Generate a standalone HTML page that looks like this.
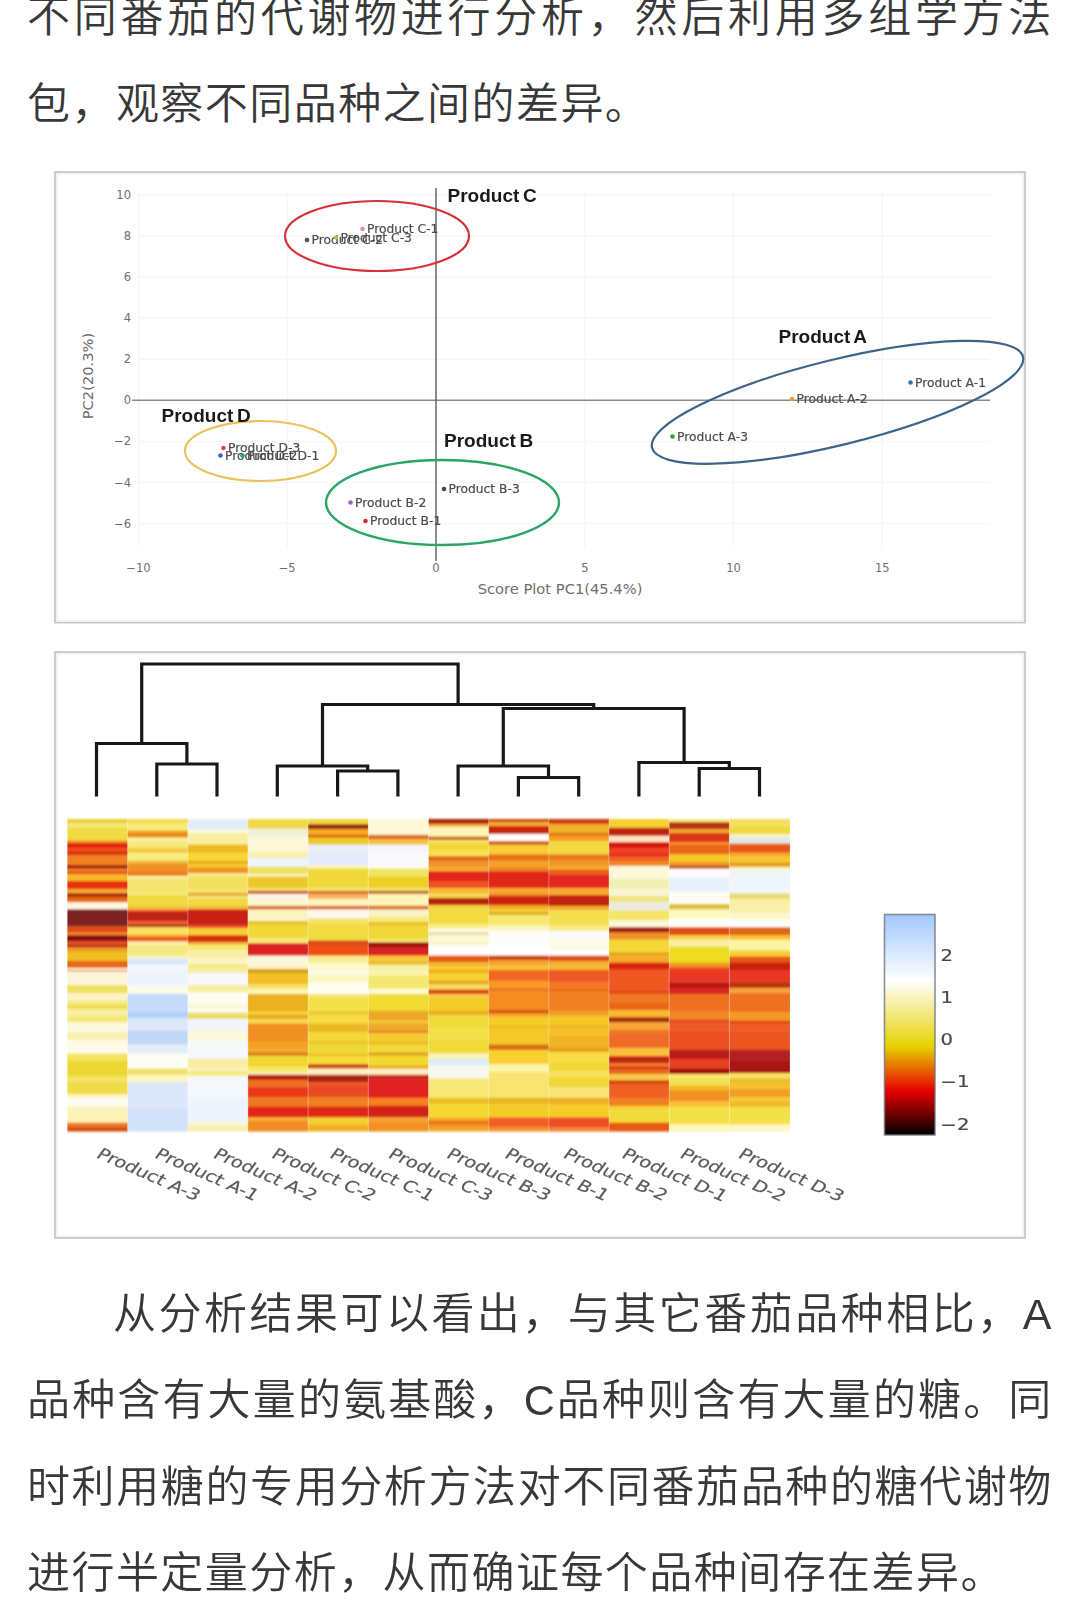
<!DOCTYPE html>
<html lang="zh-CN"><head><meta charset="utf-8"><title>page</title>
<style>
html,body{margin:0;padding:0;background:#fff;}
body{width:1070px;height:1618px;position:relative;overflow:hidden;font-family:"Liberation Sans","Noto Sans CJK SC",sans-serif;}
.t{position:absolute;left:27px;width:1025.8px;color:#383838;font-size:43px;font-weight:350;line-height:60px;height:60px;white-space:nowrap;letter-spacing:1.45px;}
.j{text-align:justify;text-align-last:justify;}
svg{position:absolute;left:0;top:0;}
.s{font-family:"DejaVu Sans","Liberation Sans",sans-serif;font-size:12.3px;fill:#4c4c4c;stroke:#4c4c4c;stroke-width:0.2px;}
.b{font-family:"Liberation Sans",sans-serif;font-weight:bold;font-size:19px;fill:#1a1a1a;letter-spacing:0px;word-spacing:-1.6px;}
.cbt{font-family:"DejaVu Sans","Liberation Sans",sans-serif;font-size:15.5px;fill:#4a4a4a;stroke:#4a4a4a;stroke-width:0.2px;}
.cl{font-family:"DejaVu Sans","Liberation Sans",sans-serif;font-size:15.5px;fill:#5a5a5a;stroke:#5a5a5a;stroke-width:0.2px;}
.ax{font-family:"DejaVu Sans","Liberation Sans",sans-serif;font-size:11.5px;fill:#6e6e6e;}
</style></head><body>
<div class="t j" style="top:-13px">不同番茄的代谢物进行分析，然后利用多组学方法</div>
<div class="t" style="top:74px">包，观察不同品种之间的差异。</div>
<svg width="1070" height="1618" viewBox="0 0 1070 1618" style="filter:blur(0.5px)">
<rect x="55" y="172" width="970" height="450.6" fill="#fff" stroke="#c8c8c8" stroke-width="1.8"/><rect x="56.8" y="173.8" width="966.4" height="447" fill="none" stroke="#f1f1f1" stroke-width="1.6"/>
<line x1="138" x2="990" y1="523.6" y2="523.6" stroke="#f6f6f6" stroke-width="1.5"/>
<line x1="138" x2="990" y1="482.5" y2="482.5" stroke="#f6f6f6" stroke-width="1.5"/>
<line x1="138" x2="990" y1="441.4" y2="441.4" stroke="#f6f6f6" stroke-width="1.5"/>
<line x1="138" x2="990" y1="359.2" y2="359.2" stroke="#f6f6f6" stroke-width="1.5"/>
<line x1="138" x2="990" y1="318.1" y2="318.1" stroke="#f6f6f6" stroke-width="1.5"/>
<line x1="138" x2="990" y1="277.0" y2="277.0" stroke="#f6f6f6" stroke-width="1.5"/>
<line x1="138" x2="990" y1="235.9" y2="235.9" stroke="#f6f6f6" stroke-width="1.5"/>
<line x1="138" x2="990" y1="194.8" y2="194.8" stroke="#f6f6f6" stroke-width="1.5"/>
<line y1="190" y2="548" x1="138.5" x2="138.5" stroke="#f7f7f7" stroke-width="1.5"/>
<line y1="190" y2="548" x1="287.2" x2="287.2" stroke="#f7f7f7" stroke-width="1.5"/>
<line y1="190" y2="548" x1="584.8" x2="584.8" stroke="#f7f7f7" stroke-width="1.5"/>
<line y1="190" y2="548" x1="733.5" x2="733.5" stroke="#f7f7f7" stroke-width="1.5"/>
<line y1="190" y2="548" x1="882.2" x2="882.2" stroke="#f7f7f7" stroke-width="1.5"/>
<line x1="132" x2="990" y1="400.3" y2="400.3" stroke="#8a8a8a" stroke-width="1.6"/>
<line y1="188" y2="561" x1="436" x2="436" stroke="#5c5c5c" stroke-width="1.4"/>
<text class="ax" x="131" y="527.6" text-anchor="end">−6</text>
<text class="ax" x="131" y="486.5" text-anchor="end">−4</text>
<text class="ax" x="131" y="445.4" text-anchor="end">−2</text>
<text class="ax" x="131" y="404.3" text-anchor="end">0</text>
<text class="ax" x="131" y="363.2" text-anchor="end">2</text>
<text class="ax" x="131" y="322.1" text-anchor="end">4</text>
<text class="ax" x="131" y="281.0" text-anchor="end">6</text>
<text class="ax" x="131" y="239.9" text-anchor="end">8</text>
<text class="ax" x="131" y="198.8" text-anchor="end">10</text>
<text class="ax" x="138.5" y="572" text-anchor="middle">−10</text>
<text class="ax" x="287.2" y="572" text-anchor="middle">−5</text>
<text class="ax" x="436.0" y="572" text-anchor="middle">0</text>
<text class="ax" x="584.8" y="572" text-anchor="middle">5</text>
<text class="ax" x="733.5" y="572" text-anchor="middle">10</text>
<text class="ax" x="882.2" y="572" text-anchor="middle">15</text>
<text class="ax" x="560" y="594" text-anchor="middle" style="font-size:14.7px">Score Plot PC1(45.4%)</text>
<text class="ax" transform="translate(93,376) rotate(-90)" text-anchor="middle" style="font-size:14.7px">PC2(20.3%)</text>
<ellipse cx="377" cy="236" rx="92" ry="35" fill="none" stroke="#d63038" stroke-width="2.2"/>
<ellipse cx="260.5" cy="451" rx="75.5" ry="30" fill="none" stroke="#e9c25a" stroke-width="2.2"/>
<ellipse cx="442.5" cy="502.5" rx="116.5" ry="42.5" fill="none" stroke="#2aa566" stroke-width="2.4"/>
<ellipse cx="837.5" cy="402.3" rx="191" ry="42.5" transform="rotate(-13.8 837.5 402.3)" fill="none" stroke="#3f6488" stroke-width="2.2"/>
<circle cx="307" cy="240" r="2.3" fill="#4a5560"/>
<text class="s" x="311.5" y="244">Product C-2</text>
<circle cx="336" cy="237.5" r="2.3" fill="#a8c838"/>
<text class="s" x="340.5" y="241.5">Product C-3</text>
<circle cx="362.5" cy="229" r="2.3" fill="#e888c0"/>
<text class="s" x="367.0" y="233">Product C-1</text>
<circle cx="220.5" cy="455.5" r="2.3" fill="#3a60c8"/>
<text class="s" x="225.0" y="459.5">Product D-2</text>
<circle cx="242.5" cy="455.5" r="2.3" fill="#2a9a8a"/>
<text class="s" x="247.0" y="459.5">Product D-1</text>
<circle cx="223.5" cy="448" r="2.3" fill="#e0483a"/>
<text class="s" x="228.0" y="452">Product D-3</text>
<circle cx="444" cy="489" r="2.3" fill="#444"/>
<text class="s" x="448.5" y="493">Product B-3</text>
<circle cx="350.5" cy="502.5" r="2.3" fill="#9a60c8"/>
<text class="s" x="355.0" y="506.5">Product B-2</text>
<circle cx="365.5" cy="521" r="2.3" fill="#d82840"/>
<text class="s" x="370.0" y="525">Product B-1</text>
<circle cx="910.5" cy="382.5" r="2.3" fill="#2878b8"/>
<text class="s" x="915.0" y="386.5">Product A-1</text>
<circle cx="792" cy="399" r="2.3" fill="#f0a030"/>
<text class="s" x="796.5" y="403">Product A-2</text>
<circle cx="672.5" cy="436.5" r="2.3" fill="#3a9a3a"/>
<text class="s" x="677.0" y="440.5">Product A-3</text>
<text class="b" x="447.5" y="202">Product C</text>
<text class="b" x="161.5" y="422">Product D</text>
<text class="b" x="444" y="447">Product B</text>
<text class="b" x="778.5" y="343">Product A</text>
<rect x="55" y="652" width="970" height="586" fill="#fff" stroke="#c8c8c8" stroke-width="1.8"/><rect x="56.8" y="653.8" width="966.4" height="582.4" fill="none" stroke="#f1f1f1" stroke-width="1.6"/>
<path d="M156.8,796.5V764.0H217.0V796.5M96.5,796.5V743.5H186.9V764.0M337.6,796.5V771.0H397.9V796.5M277.3,796.5V766.0H367.7V771.0M518.4,796.5V777.5H578.7V796.5M458.1,796.5V766.0H548.5V777.5M699.2,796.5V768.5H759.5V796.5M638.9,796.5V762.5H729.3V768.5M503.3,766.0V708.5H684.1V762.5M322.5,766.0V704.5H593.7V708.5M141.7,743.5V664.0H458.1V704.5" fill="none" stroke="#181818" stroke-width="3.2" stroke-linejoin="miter"/>
<defs><filter id="hb" x="-2%" y="-2%" width="104%" height="104%"><feGaussianBlur stdDeviation="0.7 1.05"/></filter><linearGradient id="cb" x1="0" y1="1" x2="0" y2="0"><stop offset="0" stop-color="rgb(0,0,0)"/><stop offset="0.2" stop-color="rgb(230,0,0)"/><stop offset="0.4" stop-color="rgb(230,210,0)"/><stop offset="0.7" stop-color="rgb(255,255,255)"/><stop offset="1" stop-color="rgb(160,200,255)"/></linearGradient></defs>
<g filter="url(#hb)">
<rect x="67.4" y="819.0" width="60.5" height="4.6" fill="#e8d030"/>
<rect x="67.4" y="823.3" width="60.5" height="4.7" fill="#f6e878"/>
<rect x="67.4" y="827.8" width="60.5" height="12.7" fill="#f0dc40"/>
<rect x="67.4" y="840.2" width="60.5" height="3.0" fill="#f0a020"/>
<rect x="67.4" y="842.8" width="60.5" height="5.6" fill="#e02810"/>
<rect x="67.4" y="848.2" width="60.5" height="3.9" fill="#f04818"/>
<rect x="67.4" y="851.7" width="60.5" height="3.9" fill="#d83010"/>
<rect x="67.4" y="855.3" width="60.5" height="10.1" fill="#f08020"/>
<rect x="67.4" y="865.0" width="60.5" height="3.9" fill="#a82008"/>
<rect x="67.4" y="868.6" width="60.5" height="3.0" fill="#f08020"/>
<rect x="67.4" y="871.3" width="60.5" height="3.3" fill="#e05010"/>
<rect x="67.4" y="874.3" width="60.5" height="7.0" fill="#f8b828"/>
<rect x="67.4" y="881.0" width="60.5" height="8.3" fill="#e83010"/>
<rect x="67.4" y="889.0" width="60.5" height="4.4" fill="#f8a830"/>
<rect x="67.4" y="893.1" width="60.5" height="4.2" fill="#a83008"/>
<rect x="67.4" y="897.0" width="60.5" height="5.6" fill="#e86810"/>
<rect x="67.4" y="902.3" width="60.5" height="7.4" fill="#fdf6e0"/>
<rect x="67.4" y="909.4" width="60.5" height="17.2" fill="#7c2020"/>
<rect x="67.4" y="926.3" width="60.5" height="6.5" fill="#e04818"/>
<rect x="67.4" y="932.5" width="60.5" height="3.0" fill="#f08828"/>
<rect x="67.4" y="935.2" width="60.5" height="6.5" fill="#8a1008"/>
<rect x="67.4" y="941.4" width="60.5" height="3.5" fill="#e85020"/>
<rect x="67.4" y="944.6" width="60.5" height="3.3" fill="#c03010"/>
<rect x="67.4" y="947.6" width="60.5" height="4.7" fill="#f0a020"/>
<rect x="67.4" y="952.0" width="60.5" height="9.2" fill="#f0c020"/>
<rect x="67.4" y="960.9" width="60.5" height="7.4" fill="#e86818"/>
<rect x="67.4" y="968.0" width="60.5" height="2.3" fill="#fbf6d8"/>
<rect x="67.4" y="970.0" width="60.5" height="1.7" fill="#f08030"/>
<rect x="67.4" y="971.4" width="60.5" height="14.0" fill="#fbf6d8"/>
<rect x="67.4" y="985.1" width="60.5" height="8.3" fill="#f0e060"/>
<rect x="67.4" y="993.1" width="60.5" height="8.3" fill="#fbf4c0"/>
<rect x="67.4" y="1001.1" width="60.5" height="4.7" fill="#f4e878"/>
<rect x="67.4" y="1005.5" width="60.5" height="3.0" fill="#ecd840"/>
<rect x="67.4" y="1008.2" width="60.5" height="2.1" fill="#f4e878"/>
<rect x="67.4" y="1010.0" width="60.5" height="6.5" fill="#f8f0a0"/>
<rect x="67.4" y="1016.2" width="60.5" height="6.5" fill="#f4e878"/>
<rect x="67.4" y="1022.4" width="60.5" height="10.1" fill="#fcf8e0"/>
<rect x="67.4" y="1032.1" width="60.5" height="8.3" fill="#f8f0b0"/>
<rect x="67.4" y="1040.1" width="60.5" height="13.6" fill="#fdfbe8"/>
<rect x="67.4" y="1053.5" width="60.5" height="7.4" fill="#f4e460"/>
<rect x="67.4" y="1060.6" width="60.5" height="16.3" fill="#ecd830"/>
<rect x="67.4" y="1076.5" width="60.5" height="5.6" fill="#f4e468"/>
<rect x="67.4" y="1081.9" width="60.5" height="12.7" fill="#f0dc48"/>
<rect x="67.4" y="1094.3" width="60.5" height="3.9" fill="#fbf4c0"/>
<rect x="67.4" y="1097.8" width="60.5" height="9.2" fill="#fefcf0"/>
<rect x="67.4" y="1106.7" width="60.5" height="16.3" fill="#fbf2b8"/>
<rect x="67.4" y="1122.7" width="60.5" height="4.7" fill="#f07820"/>
<rect x="67.4" y="1127.1" width="60.5" height="4.4" fill="#d05010"/>
<rect x="127.6" y="819.0" width="60.5" height="4.6" fill="#f0dc50"/>
<rect x="127.6" y="823.3" width="60.5" height="3.9" fill="#f8e870"/>
<rect x="127.6" y="826.9" width="60.5" height="3.9" fill="#f8ec80"/>
<rect x="127.6" y="830.4" width="60.5" height="3.0" fill="#f0a820"/>
<rect x="127.6" y="833.1" width="60.5" height="4.7" fill="#e88a10"/>
<rect x="127.6" y="837.5" width="60.5" height="3.9" fill="#fbf0a0"/>
<rect x="127.6" y="841.1" width="60.5" height="7.4" fill="#f8e878"/>
<rect x="127.6" y="848.2" width="60.5" height="4.7" fill="#f0c830"/>
<rect x="127.6" y="852.6" width="60.5" height="8.3" fill="#f8ec80"/>
<rect x="127.6" y="860.6" width="60.5" height="3.0" fill="#f0c030"/>
<rect x="127.6" y="863.3" width="60.5" height="9.2" fill="#f09020"/>
<rect x="127.6" y="872.1" width="60.5" height="3.9" fill="#e87818"/>
<rect x="127.6" y="875.7" width="60.5" height="3.0" fill="#fbf0a0"/>
<rect x="127.6" y="878.4" width="60.5" height="13.6" fill="#f4e470"/>
<rect x="127.6" y="891.7" width="60.5" height="3.9" fill="#f6e878"/>
<rect x="127.6" y="895.2" width="60.5" height="11.8" fill="#f0d840"/>
<rect x="127.6" y="906.8" width="60.5" height="3.9" fill="#f8b040"/>
<rect x="127.6" y="910.3" width="60.5" height="3.0" fill="#d83018"/>
<rect x="127.6" y="913.0" width="60.5" height="8.3" fill="#c02018"/>
<rect x="127.6" y="921.0" width="60.5" height="3.9" fill="#f06030"/>
<rect x="127.6" y="924.5" width="60.5" height="3.0" fill="#a83010"/>
<rect x="127.6" y="927.2" width="60.5" height="7.4" fill="#f8e060"/>
<rect x="127.6" y="934.3" width="60.5" height="3.0" fill="#f8a830"/>
<rect x="127.6" y="937.0" width="60.5" height="4.7" fill="#e85818"/>
<rect x="127.6" y="941.4" width="60.5" height="3.9" fill="#fbf0b0"/>
<rect x="127.6" y="944.9" width="60.5" height="11.0" fill="#f4e880"/>
<rect x="127.6" y="955.6" width="60.5" height="3.0" fill="#fbf4c0"/>
<rect x="127.6" y="958.3" width="60.5" height="6.5" fill="#d8e8f8"/>
<rect x="127.6" y="964.5" width="60.5" height="5.6" fill="#f4f8fc"/>
<rect x="127.6" y="969.8" width="60.5" height="0.5" fill="#eef4fc"/>
<rect x="127.6" y="970.0" width="60.5" height="16.3" fill="#eef4fc"/>
<rect x="127.6" y="986.0" width="60.5" height="8.3" fill="#fcfae8"/>
<rect x="127.6" y="994.0" width="60.5" height="18.1" fill="#c4dcfa"/>
<rect x="127.6" y="1011.7" width="60.5" height="6.5" fill="#b4d0f8"/>
<rect x="127.6" y="1017.9" width="60.5" height="12.7" fill="#dce8fa"/>
<rect x="127.6" y="1030.4" width="60.5" height="14.5" fill="#c0d8f8"/>
<rect x="127.6" y="1044.6" width="60.5" height="9.2" fill="#e4eefa"/>
<rect x="127.6" y="1053.5" width="60.5" height="15.4" fill="#fdfdf8"/>
<rect x="127.6" y="1068.5" width="60.5" height="6.5" fill="#ece468"/>
<rect x="127.6" y="1074.8" width="60.5" height="7.4" fill="#fbf6c0"/>
<rect x="127.6" y="1081.9" width="60.5" height="26.9" fill="#dce8fa"/>
<rect x="127.6" y="1108.5" width="60.5" height="23.0" fill="#d2e2f9"/>
<rect x="187.8" y="819.0" width="60.5" height="3.7" fill="#e4eef8"/>
<rect x="187.8" y="822.4" width="60.5" height="7.4" fill="#e0ecf8"/>
<rect x="187.8" y="829.5" width="60.5" height="3.9" fill="#fcf8e0"/>
<rect x="187.8" y="833.1" width="60.5" height="11.8" fill="#f8f0a0"/>
<rect x="187.8" y="844.6" width="60.5" height="8.3" fill="#f0b820"/>
<rect x="187.8" y="852.6" width="60.5" height="8.3" fill="#f4d838"/>
<rect x="187.8" y="860.6" width="60.5" height="3.9" fill="#e8b018"/>
<rect x="187.8" y="864.2" width="60.5" height="3.9" fill="#f8c830"/>
<rect x="187.8" y="867.7" width="60.5" height="5.6" fill="#f09020"/>
<rect x="187.8" y="873.0" width="60.5" height="3.9" fill="#f8e888"/>
<rect x="187.8" y="876.6" width="60.5" height="13.6" fill="#f4e060"/>
<rect x="187.8" y="889.9" width="60.5" height="3.0" fill="#f6e878"/>
<rect x="187.8" y="892.6" width="60.5" height="3.9" fill="#e8b030"/>
<rect x="187.8" y="896.1" width="60.5" height="3.0" fill="#f6e878"/>
<rect x="187.8" y="898.8" width="60.5" height="7.4" fill="#f0d840"/>
<rect x="187.8" y="905.9" width="60.5" height="3.9" fill="#f8b838"/>
<rect x="187.8" y="909.4" width="60.5" height="16.3" fill="#c82018"/>
<rect x="187.8" y="925.4" width="60.5" height="3.0" fill="#e85020"/>
<rect x="187.8" y="928.1" width="60.5" height="7.4" fill="#f8d030"/>
<rect x="187.8" y="935.2" width="60.5" height="7.4" fill="#d83010"/>
<rect x="187.8" y="942.3" width="60.5" height="3.0" fill="#f8b838"/>
<rect x="187.8" y="944.9" width="60.5" height="5.6" fill="#f8e870"/>
<rect x="187.8" y="950.3" width="60.5" height="7.4" fill="#f8f0a0"/>
<rect x="187.8" y="957.4" width="60.5" height="7.4" fill="#fbf4c0"/>
<rect x="187.8" y="964.5" width="60.5" height="4.7" fill="#f4e880"/>
<rect x="187.8" y="968.9" width="60.5" height="1.4" fill="#fbf4c0"/>
<rect x="187.8" y="970.0" width="60.5" height="3.0" fill="#f8ec90"/>
<rect x="187.8" y="972.7" width="60.5" height="12.7" fill="#f6f8fc"/>
<rect x="187.8" y="985.1" width="60.5" height="7.4" fill="#f8eea0"/>
<rect x="187.8" y="992.2" width="60.5" height="13.6" fill="#fdfcf0"/>
<rect x="187.8" y="1005.5" width="60.5" height="3.0" fill="#fbf4c8"/>
<rect x="187.8" y="1008.2" width="60.5" height="4.7" fill="#fdfcf0"/>
<rect x="187.8" y="1012.6" width="60.5" height="3.9" fill="#f0e070"/>
<rect x="187.8" y="1016.2" width="60.5" height="3.0" fill="#e8d850"/>
<rect x="187.8" y="1018.8" width="60.5" height="11.8" fill="#f0f4fc"/>
<rect x="187.8" y="1030.4" width="60.5" height="11.0" fill="#fcf8dc"/>
<rect x="187.8" y="1041.0" width="60.5" height="18.1" fill="#f6f8fc"/>
<rect x="187.8" y="1058.8" width="60.5" height="8.3" fill="#f8eca0"/>
<rect x="187.8" y="1066.8" width="60.5" height="4.7" fill="#fbf2b4"/>
<rect x="187.8" y="1071.2" width="60.5" height="3.9" fill="#f6e878"/>
<rect x="187.8" y="1074.8" width="60.5" height="2.1" fill="#fbf2b4"/>
<rect x="187.8" y="1076.5" width="60.5" height="21.6" fill="#f6f8fc"/>
<rect x="187.8" y="1097.8" width="60.5" height="25.2" fill="#eef4fc"/>
<rect x="187.8" y="1122.7" width="60.5" height="3.9" fill="#fcf6c8"/>
<rect x="187.8" y="1126.2" width="60.5" height="5.3" fill="#f8eeb0"/>
<rect x="247.9" y="819.0" width="60.5" height="9.9" fill="#f0d848"/>
<rect x="247.9" y="828.6" width="60.5" height="8.3" fill="#eef0d8"/>
<rect x="247.9" y="836.6" width="60.5" height="15.4" fill="#fcf8d8"/>
<rect x="247.9" y="851.7" width="60.5" height="6.5" fill="#f8f0b0"/>
<rect x="247.9" y="857.9" width="60.5" height="9.2" fill="#f0f4fa"/>
<rect x="247.9" y="866.8" width="60.5" height="7.4" fill="#f0e060"/>
<rect x="247.9" y="873.9" width="60.5" height="3.0" fill="#fbf4c0"/>
<rect x="247.9" y="876.6" width="60.5" height="11.8" fill="#ecc828"/>
<rect x="247.9" y="888.1" width="60.5" height="3.0" fill="#f6e878"/>
<rect x="247.9" y="890.8" width="60.5" height="3.3" fill="#c85010"/>
<rect x="247.9" y="893.8" width="60.5" height="5.3" fill="#fcf4ec"/>
<rect x="247.9" y="898.8" width="60.5" height="7.4" fill="#fcf8d0"/>
<rect x="247.9" y="905.9" width="60.5" height="3.9" fill="#d86818"/>
<rect x="247.9" y="909.4" width="60.5" height="11.8" fill="#fcf4c0"/>
<rect x="247.9" y="921.0" width="60.5" height="3.9" fill="#e8c020"/>
<rect x="247.9" y="924.5" width="60.5" height="13.6" fill="#f0d838"/>
<rect x="247.9" y="937.8" width="60.5" height="5.6" fill="#f8e878"/>
<rect x="247.9" y="943.2" width="60.5" height="12.7" fill="#dc2020"/>
<rect x="247.9" y="955.6" width="60.5" height="9.2" fill="#f8f8e0"/>
<rect x="247.9" y="964.5" width="60.5" height="4.7" fill="#fbf4c0"/>
<rect x="247.9" y="968.9" width="60.5" height="1.4" fill="#e8a828"/>
<rect x="247.9" y="970.0" width="60.5" height="3.0" fill="#d09828"/>
<rect x="247.9" y="972.7" width="60.5" height="11.8" fill="#f0c028"/>
<rect x="247.9" y="984.2" width="60.5" height="4.7" fill="#f8e060"/>
<rect x="247.9" y="988.6" width="60.5" height="5.6" fill="#fcf4b0"/>
<rect x="247.9" y="994.0" width="60.5" height="18.1" fill="#ecb020"/>
<rect x="247.9" y="1011.7" width="60.5" height="3.0" fill="#f8d838"/>
<rect x="247.9" y="1014.4" width="60.5" height="4.7" fill="#e8a820"/>
<rect x="247.9" y="1018.8" width="60.5" height="4.7" fill="#f8dc50"/>
<rect x="247.9" y="1023.3" width="60.5" height="18.1" fill="#f09020"/>
<rect x="247.9" y="1041.0" width="60.5" height="7.4" fill="#f4a020"/>
<rect x="247.9" y="1048.1" width="60.5" height="4.7" fill="#f8a828"/>
<rect x="247.9" y="1052.6" width="60.5" height="3.3" fill="#d07810"/>
<rect x="247.9" y="1055.6" width="60.5" height="11.5" fill="#f0d830"/>
<rect x="247.9" y="1066.8" width="60.5" height="5.6" fill="#f8e868"/>
<rect x="247.9" y="1072.1" width="60.5" height="3.0" fill="#fcf0c0"/>
<rect x="247.9" y="1074.8" width="60.5" height="5.3" fill="#b02010"/>
<rect x="247.9" y="1079.7" width="60.5" height="7.8" fill="#f07020"/>
<rect x="247.9" y="1087.2" width="60.5" height="10.1" fill="#e83818"/>
<rect x="247.9" y="1097.0" width="60.5" height="10.1" fill="#f07820"/>
<rect x="247.9" y="1106.7" width="60.5" height="11.0" fill="#e02818"/>
<rect x="247.9" y="1117.4" width="60.5" height="3.9" fill="#f8b030"/>
<rect x="247.9" y="1120.9" width="60.5" height="10.6" fill="#f08c20"/>
<rect x="308.1" y="819.0" width="60.5" height="5.5" fill="#f0d840"/>
<rect x="308.1" y="824.2" width="60.5" height="5.3" fill="#983008"/>
<rect x="308.1" y="829.2" width="60.5" height="6.0" fill="#f8a820"/>
<rect x="308.1" y="834.9" width="60.5" height="3.0" fill="#d06010"/>
<rect x="308.1" y="837.5" width="60.5" height="7.4" fill="#f0c828"/>
<rect x="308.1" y="844.6" width="60.5" height="7.4" fill="#e8f0f8"/>
<rect x="308.1" y="851.7" width="60.5" height="13.6" fill="#e4ecfa"/>
<rect x="308.1" y="865.0" width="60.5" height="3.9" fill="#fbf4c0"/>
<rect x="308.1" y="868.6" width="60.5" height="19.8" fill="#f0d838"/>
<rect x="308.1" y="888.1" width="60.5" height="3.0" fill="#f6e878"/>
<rect x="308.1" y="890.8" width="60.5" height="3.3" fill="#d87018"/>
<rect x="308.1" y="893.8" width="60.5" height="5.3" fill="#f8b060"/>
<rect x="308.1" y="898.8" width="60.5" height="7.4" fill="#fcf4c0"/>
<rect x="308.1" y="905.9" width="60.5" height="3.9" fill="#d86818"/>
<rect x="308.1" y="909.4" width="60.5" height="9.2" fill="#fcf8f0"/>
<rect x="308.1" y="918.3" width="60.5" height="5.6" fill="#f4e468"/>
<rect x="308.1" y="923.6" width="60.5" height="17.2" fill="#f0dc40"/>
<rect x="308.1" y="940.5" width="60.5" height="4.7" fill="#d84818"/>
<rect x="308.1" y="944.9" width="60.5" height="11.0" fill="#f05018"/>
<rect x="308.1" y="955.6" width="60.5" height="7.4" fill="#f8ec90"/>
<rect x="308.1" y="962.7" width="60.5" height="7.6" fill="#fcf8d0"/>
<rect x="308.1" y="970.0" width="60.5" height="5.6" fill="#fcfae0"/>
<rect x="308.1" y="975.3" width="60.5" height="7.4" fill="#fcf6c0"/>
<rect x="308.1" y="982.4" width="60.5" height="11.8" fill="#fdfdf0"/>
<rect x="308.1" y="994.0" width="60.5" height="3.9" fill="#f6e878"/>
<rect x="308.1" y="997.5" width="60.5" height="14.5" fill="#f4e048"/>
<rect x="308.1" y="1011.7" width="60.5" height="3.0" fill="#e8c020"/>
<rect x="308.1" y="1014.4" width="60.5" height="9.2" fill="#f8dc40"/>
<rect x="308.1" y="1023.3" width="60.5" height="9.2" fill="#ecb828"/>
<rect x="308.1" y="1032.1" width="60.5" height="9.2" fill="#f4d838"/>
<rect x="308.1" y="1041.0" width="60.5" height="3.9" fill="#e8c828"/>
<rect x="308.1" y="1044.6" width="60.5" height="9.2" fill="#f0d838"/>
<rect x="308.1" y="1053.5" width="60.5" height="3.0" fill="#ecc020"/>
<rect x="308.1" y="1056.1" width="60.5" height="8.3" fill="#f4dc38"/>
<rect x="308.1" y="1064.1" width="60.5" height="4.7" fill="#d04810"/>
<rect x="308.1" y="1068.5" width="60.5" height="6.5" fill="#fcf0c0"/>
<rect x="308.1" y="1074.8" width="60.5" height="7.4" fill="#a82018"/>
<rect x="308.1" y="1081.9" width="60.5" height="3.9" fill="#f05828"/>
<rect x="308.1" y="1085.4" width="60.5" height="11.8" fill="#e84820"/>
<rect x="308.1" y="1097.0" width="60.5" height="10.1" fill="#f08020"/>
<rect x="308.1" y="1106.7" width="60.5" height="11.0" fill="#e02818"/>
<rect x="308.1" y="1117.4" width="60.5" height="7.4" fill="#f4d030"/>
<rect x="308.1" y="1124.5" width="60.5" height="7.0" fill="#f0b028"/>
<rect x="368.3" y="819.0" width="60.5" height="16.2" fill="#fcf8d8"/>
<rect x="368.3" y="834.9" width="60.5" height="4.7" fill="#d87018"/>
<rect x="368.3" y="839.3" width="60.5" height="5.6" fill="#f8c040"/>
<rect x="368.3" y="844.6" width="60.5" height="8.3" fill="#f4f6fa"/>
<rect x="368.3" y="852.6" width="60.5" height="16.3" fill="#fafafa"/>
<rect x="368.3" y="868.6" width="60.5" height="8.3" fill="#f4e460"/>
<rect x="368.3" y="876.6" width="60.5" height="11.8" fill="#ecd028"/>
<rect x="368.3" y="888.1" width="60.5" height="3.0" fill="#f6e878"/>
<rect x="368.3" y="890.8" width="60.5" height="3.3" fill="#c06010"/>
<rect x="368.3" y="893.8" width="60.5" height="12.4" fill="#fcf4b8"/>
<rect x="368.3" y="905.9" width="60.5" height="3.9" fill="#d86818"/>
<rect x="368.3" y="909.4" width="60.5" height="7.4" fill="#f8f4c8"/>
<rect x="368.3" y="916.5" width="60.5" height="5.6" fill="#f8ec80"/>
<rect x="368.3" y="921.9" width="60.5" height="3.9" fill="#e8c020"/>
<rect x="368.3" y="925.4" width="60.5" height="14.5" fill="#f0d838"/>
<rect x="368.3" y="939.6" width="60.5" height="3.0" fill="#f6e878"/>
<rect x="368.3" y="942.3" width="60.5" height="5.6" fill="#a01808"/>
<rect x="368.3" y="947.6" width="60.5" height="8.3" fill="#dc2020"/>
<rect x="368.3" y="955.6" width="60.5" height="6.5" fill="#f8c838"/>
<rect x="368.3" y="961.8" width="60.5" height="3.0" fill="#e0b820"/>
<rect x="368.3" y="964.5" width="60.5" height="5.8" fill="#f8f0a0"/>
<rect x="368.3" y="970.0" width="60.5" height="5.6" fill="#f8f4b0"/>
<rect x="368.3" y="975.3" width="60.5" height="13.6" fill="#f4e870"/>
<rect x="368.3" y="988.6" width="60.5" height="5.6" fill="#fcf8d0"/>
<rect x="368.3" y="994.0" width="60.5" height="17.2" fill="#f0dc30"/>
<rect x="368.3" y="1010.8" width="60.5" height="10.1" fill="#eca828"/>
<rect x="368.3" y="1020.6" width="60.5" height="3.0" fill="#f8c838"/>
<rect x="368.3" y="1023.3" width="60.5" height="7.4" fill="#f0a828"/>
<rect x="368.3" y="1030.4" width="60.5" height="3.0" fill="#e08818"/>
<rect x="368.3" y="1033.0" width="60.5" height="8.3" fill="#f4cc30"/>
<rect x="368.3" y="1041.0" width="60.5" height="3.9" fill="#e8c020"/>
<rect x="368.3" y="1044.6" width="60.5" height="8.3" fill="#f4d838"/>
<rect x="368.3" y="1052.6" width="60.5" height="3.3" fill="#d8a018"/>
<rect x="368.3" y="1055.6" width="60.5" height="10.6" fill="#f4d830"/>
<rect x="368.3" y="1065.9" width="60.5" height="3.0" fill="#e8a020"/>
<rect x="368.3" y="1068.5" width="60.5" height="6.5" fill="#fcf0c0"/>
<rect x="368.3" y="1074.8" width="60.5" height="3.9" fill="#c02018"/>
<rect x="368.3" y="1078.3" width="60.5" height="19.8" fill="#e02020"/>
<rect x="368.3" y="1097.8" width="60.5" height="8.3" fill="#f88020"/>
<rect x="368.3" y="1105.8" width="60.5" height="11.8" fill="#d02018"/>
<rect x="368.3" y="1117.4" width="60.5" height="5.6" fill="#f8a030"/>
<rect x="368.3" y="1122.7" width="60.5" height="8.8" fill="#f09020"/>
<rect x="428.5" y="819.0" width="60.5" height="5.1" fill="#a82810"/>
<rect x="428.5" y="823.8" width="60.5" height="3.3" fill="#f8b040"/>
<rect x="428.5" y="826.9" width="60.5" height="10.1" fill="#fcf4b8"/>
<rect x="428.5" y="836.6" width="60.5" height="3.9" fill="#d06818"/>
<rect x="428.5" y="840.2" width="60.5" height="3.0" fill="#f6e878"/>
<rect x="428.5" y="842.8" width="60.5" height="7.4" fill="#f0d838"/>
<rect x="428.5" y="850.0" width="60.5" height="6.5" fill="#f8e050"/>
<rect x="428.5" y="856.2" width="60.5" height="4.7" fill="#e06818"/>
<rect x="428.5" y="860.6" width="60.5" height="5.6" fill="#f09028"/>
<rect x="428.5" y="865.9" width="60.5" height="5.6" fill="#f8a830"/>
<rect x="428.5" y="871.3" width="60.5" height="10.1" fill="#e02818"/>
<rect x="428.5" y="881.0" width="60.5" height="7.4" fill="#f05020"/>
<rect x="428.5" y="888.1" width="60.5" height="5.6" fill="#f8b830"/>
<rect x="428.5" y="893.5" width="60.5" height="4.7" fill="#f8d850"/>
<rect x="428.5" y="897.9" width="60.5" height="7.4" fill="#b82010"/>
<rect x="428.5" y="905.0" width="60.5" height="4.7" fill="#f8d040"/>
<rect x="428.5" y="909.4" width="60.5" height="14.5" fill="#f0dc40"/>
<rect x="428.5" y="923.6" width="60.5" height="4.7" fill="#f8ec80"/>
<rect x="428.5" y="928.1" width="60.5" height="4.7" fill="#fcf8d8"/>
<rect x="428.5" y="932.5" width="60.5" height="3.0" fill="#e8dca0"/>
<rect x="428.5" y="935.2" width="60.5" height="6.5" fill="#fcf8d8"/>
<rect x="428.5" y="941.4" width="60.5" height="3.9" fill="#fbf4c0"/>
<rect x="428.5" y="944.9" width="60.5" height="11.0" fill="#ffffff"/>
<rect x="428.5" y="955.6" width="60.5" height="6.5" fill="#e05818"/>
<rect x="428.5" y="961.8" width="60.5" height="4.7" fill="#f8b030"/>
<rect x="428.5" y="966.2" width="60.5" height="4.0" fill="#f8cc30"/>
<rect x="428.5" y="970.0" width="60.5" height="3.0" fill="#f0a020"/>
<rect x="428.5" y="972.7" width="60.5" height="8.3" fill="#f8d030"/>
<rect x="428.5" y="980.7" width="60.5" height="3.9" fill="#e0a818"/>
<rect x="428.5" y="984.2" width="60.5" height="5.6" fill="#f8dc60"/>
<rect x="428.5" y="989.5" width="60.5" height="4.7" fill="#d84810"/>
<rect x="428.5" y="994.0" width="60.5" height="3.9" fill="#f8c848"/>
<rect x="428.5" y="997.5" width="60.5" height="13.6" fill="#f4cc28"/>
<rect x="428.5" y="1010.8" width="60.5" height="4.7" fill="#e8b020"/>
<rect x="428.5" y="1015.3" width="60.5" height="13.6" fill="#f0dc38"/>
<rect x="428.5" y="1028.6" width="60.5" height="11.0" fill="#f4e048"/>
<rect x="428.5" y="1039.2" width="60.5" height="14.5" fill="#f0dc38"/>
<rect x="428.5" y="1053.5" width="60.5" height="5.6" fill="#fcf4b8"/>
<rect x="428.5" y="1058.8" width="60.5" height="6.5" fill="#e0ecf4"/>
<rect x="428.5" y="1065.0" width="60.5" height="13.6" fill="#f8f8f0"/>
<rect x="428.5" y="1078.3" width="60.5" height="19.8" fill="#f8e878"/>
<rect x="428.5" y="1097.8" width="60.5" height="6.5" fill="#ecc020"/>
<rect x="428.5" y="1104.1" width="60.5" height="13.6" fill="#f4d830"/>
<rect x="428.5" y="1117.4" width="60.5" height="3.9" fill="#f8a828"/>
<rect x="428.5" y="1120.9" width="60.5" height="3.9" fill="#e87018"/>
<rect x="428.5" y="1124.5" width="60.5" height="3.9" fill="#f09828"/>
<rect x="428.5" y="1128.0" width="60.5" height="3.5" fill="#f8a830"/>
<rect x="488.7" y="819.0" width="60.5" height="3.4" fill="#c85010"/>
<rect x="488.7" y="822.1" width="60.5" height="4.2" fill="#f8a830"/>
<rect x="488.7" y="826.0" width="60.5" height="8.3" fill="#c82810"/>
<rect x="488.7" y="834.0" width="60.5" height="7.4" fill="#fffaf4"/>
<rect x="488.7" y="841.1" width="60.5" height="3.9" fill="#d05818"/>
<rect x="488.7" y="844.6" width="60.5" height="10.1" fill="#f8cc30"/>
<rect x="488.7" y="854.4" width="60.5" height="6.5" fill="#e87018"/>
<rect x="488.7" y="860.6" width="60.5" height="7.4" fill="#f4a028"/>
<rect x="488.7" y="867.7" width="60.5" height="3.9" fill="#f08020"/>
<rect x="488.7" y="871.3" width="60.5" height="17.2" fill="#e02818"/>
<rect x="488.7" y="888.1" width="60.5" height="5.6" fill="#f8a830"/>
<rect x="488.7" y="893.5" width="60.5" height="3.0" fill="#f08020"/>
<rect x="488.7" y="896.1" width="60.5" height="9.2" fill="#cc2010"/>
<rect x="488.7" y="905.0" width="60.5" height="3.9" fill="#f4a028"/>
<rect x="488.7" y="908.5" width="60.5" height="3.9" fill="#f4cc30"/>
<rect x="488.7" y="912.1" width="60.5" height="3.0" fill="#e0a820"/>
<rect x="488.7" y="914.8" width="60.5" height="11.0" fill="#f8e870"/>
<rect x="488.7" y="925.4" width="60.5" height="5.6" fill="#fcf4c0"/>
<rect x="488.7" y="930.7" width="60.5" height="14.5" fill="#fcfcf8"/>
<rect x="488.7" y="944.9" width="60.5" height="11.0" fill="#ffffff"/>
<rect x="488.7" y="955.6" width="60.5" height="4.7" fill="#c84010"/>
<rect x="488.7" y="960.0" width="60.5" height="5.6" fill="#f8a030"/>
<rect x="488.7" y="965.4" width="60.5" height="4.9" fill="#f8c030"/>
<rect x="488.7" y="970.0" width="60.5" height="11.0" fill="#f06820"/>
<rect x="488.7" y="980.7" width="60.5" height="8.3" fill="#f89828"/>
<rect x="488.7" y="988.6" width="60.5" height="3.0" fill="#e87018"/>
<rect x="488.7" y="991.3" width="60.5" height="18.9" fill="#f48c20"/>
<rect x="488.7" y="1010.0" width="60.5" height="3.9" fill="#d85810"/>
<rect x="488.7" y="1013.5" width="60.5" height="3.9" fill="#f8a830"/>
<rect x="488.7" y="1017.1" width="60.5" height="8.3" fill="#f6cc28"/>
<rect x="488.7" y="1025.0" width="60.5" height="3.9" fill="#eebc20"/>
<rect x="488.7" y="1028.6" width="60.5" height="16.3" fill="#f4c828"/>
<rect x="488.7" y="1044.6" width="60.5" height="5.6" fill="#d87010"/>
<rect x="488.7" y="1049.9" width="60.5" height="14.5" fill="#f8d030"/>
<rect x="488.7" y="1064.1" width="60.5" height="8.3" fill="#fcf4a8"/>
<rect x="488.7" y="1072.1" width="60.5" height="26.0" fill="#f8e470"/>
<rect x="488.7" y="1097.8" width="60.5" height="6.5" fill="#ecb420"/>
<rect x="488.7" y="1104.1" width="60.5" height="13.6" fill="#f4cc28"/>
<rect x="488.7" y="1117.4" width="60.5" height="10.1" fill="#f06020"/>
<rect x="488.7" y="1127.1" width="60.5" height="4.4" fill="#f89030"/>
<rect x="548.8" y="819.0" width="60.5" height="5.1" fill="#c84010"/>
<rect x="548.8" y="823.8" width="60.5" height="4.2" fill="#f8a828"/>
<rect x="548.8" y="827.8" width="60.5" height="4.7" fill="#f0b828"/>
<rect x="548.8" y="832.2" width="60.5" height="4.7" fill="#e88018"/>
<rect x="548.8" y="836.6" width="60.5" height="4.7" fill="#f8a020"/>
<rect x="548.8" y="841.1" width="60.5" height="13.6" fill="#f0d840"/>
<rect x="548.8" y="854.4" width="60.5" height="5.6" fill="#e87818"/>
<rect x="548.8" y="859.7" width="60.5" height="6.5" fill="#f09828"/>
<rect x="548.8" y="865.9" width="60.5" height="3.9" fill="#f8a830"/>
<rect x="548.8" y="869.5" width="60.5" height="5.6" fill="#e86018"/>
<rect x="548.8" y="874.8" width="60.5" height="13.6" fill="#e42820"/>
<rect x="548.8" y="888.1" width="60.5" height="7.4" fill="#f8a830"/>
<rect x="548.8" y="895.2" width="60.5" height="11.0" fill="#c02010"/>
<rect x="548.8" y="905.9" width="60.5" height="4.7" fill="#f0b028"/>
<rect x="548.8" y="910.3" width="60.5" height="15.4" fill="#f4e050"/>
<rect x="548.8" y="925.4" width="60.5" height="5.6" fill="#f8ec80"/>
<rect x="548.8" y="930.7" width="60.5" height="9.2" fill="#fafaf8"/>
<rect x="548.8" y="939.6" width="60.5" height="11.0" fill="#fcfbe8"/>
<rect x="548.8" y="950.3" width="60.5" height="5.6" fill="#ffffff"/>
<rect x="548.8" y="955.6" width="60.5" height="5.6" fill="#d85018"/>
<rect x="548.8" y="960.9" width="60.5" height="4.7" fill="#f8a830"/>
<rect x="548.8" y="965.4" width="60.5" height="4.7" fill="#f8b830"/>
<rect x="548.8" y="969.8" width="60.5" height="0.5" fill="#f06020"/>
<rect x="548.8" y="970.0" width="60.5" height="12.7" fill="#f05828"/>
<rect x="548.8" y="982.4" width="60.5" height="6.5" fill="#f47820"/>
<rect x="548.8" y="988.6" width="60.5" height="3.9" fill="#e87018"/>
<rect x="548.8" y="992.2" width="60.5" height="18.9" fill="#f08020"/>
<rect x="548.8" y="1010.8" width="60.5" height="5.6" fill="#f0a020"/>
<rect x="548.8" y="1016.2" width="60.5" height="9.2" fill="#f6c828"/>
<rect x="548.8" y="1025.0" width="60.5" height="3.9" fill="#eeb420"/>
<rect x="548.8" y="1028.6" width="60.5" height="7.4" fill="#f4c428"/>
<rect x="548.8" y="1035.7" width="60.5" height="12.7" fill="#f0b424"/>
<rect x="548.8" y="1048.1" width="60.5" height="3.9" fill="#e89818"/>
<rect x="548.8" y="1051.7" width="60.5" height="11.0" fill="#f8dc40"/>
<rect x="548.8" y="1062.3" width="60.5" height="9.2" fill="#f0d838"/>
<rect x="548.8" y="1071.2" width="60.5" height="5.6" fill="#f8e060"/>
<rect x="548.8" y="1076.5" width="60.5" height="11.0" fill="#f0d838"/>
<rect x="548.8" y="1087.2" width="60.5" height="11.0" fill="#f8e478"/>
<rect x="548.8" y="1097.8" width="60.5" height="6.5" fill="#e8b020"/>
<rect x="548.8" y="1104.1" width="60.5" height="13.6" fill="#f4cc28"/>
<rect x="548.8" y="1117.4" width="60.5" height="10.1" fill="#ec5020"/>
<rect x="548.8" y="1127.1" width="60.5" height="4.4" fill="#f88030"/>
<rect x="609.0" y="819.0" width="60.5" height="9.1" fill="#f4d030"/>
<rect x="609.0" y="827.8" width="60.5" height="8.3" fill="#c02010"/>
<rect x="609.0" y="835.7" width="60.5" height="6.5" fill="#fce4c0"/>
<rect x="609.0" y="842.0" width="60.5" height="6.5" fill="#d81810"/>
<rect x="609.0" y="848.2" width="60.5" height="5.6" fill="#f04020"/>
<rect x="609.0" y="853.5" width="60.5" height="3.3" fill="#e02810"/>
<rect x="609.0" y="856.5" width="60.5" height="5.3" fill="#f06020"/>
<rect x="609.0" y="861.5" width="60.5" height="4.7" fill="#f08820"/>
<rect x="609.0" y="865.9" width="60.5" height="13.6" fill="#fcf8d8"/>
<rect x="609.0" y="879.2" width="60.5" height="9.2" fill="#f0f0b0"/>
<rect x="609.0" y="888.1" width="60.5" height="8.3" fill="#f8f4d0"/>
<rect x="609.0" y="896.1" width="60.5" height="6.5" fill="#f0e480"/>
<rect x="609.0" y="902.3" width="60.5" height="8.3" fill="#e8ece0"/>
<rect x="609.0" y="910.3" width="60.5" height="10.1" fill="#f4e468"/>
<rect x="609.0" y="920.1" width="60.5" height="7.4" fill="#fcf8d8"/>
<rect x="609.0" y="927.2" width="60.5" height="5.6" fill="#a02010"/>
<rect x="609.0" y="932.5" width="60.5" height="7.4" fill="#f09028"/>
<rect x="609.0" y="939.6" width="60.5" height="12.7" fill="#f4d838"/>
<rect x="609.0" y="952.0" width="60.5" height="4.7" fill="#e8a820"/>
<rect x="609.0" y="956.5" width="60.5" height="6.5" fill="#f8a828"/>
<rect x="609.0" y="962.7" width="60.5" height="6.5" fill="#d82010"/>
<rect x="609.0" y="968.9" width="60.5" height="1.4" fill="#f04020"/>
<rect x="609.0" y="970.0" width="60.5" height="19.8" fill="#f05820"/>
<rect x="609.0" y="989.5" width="60.5" height="4.7" fill="#e84818"/>
<rect x="609.0" y="994.0" width="60.5" height="9.2" fill="#f07820"/>
<rect x="609.0" y="1002.8" width="60.5" height="7.4" fill="#e86818"/>
<rect x="609.0" y="1010.0" width="60.5" height="7.4" fill="#f8b830"/>
<rect x="609.0" y="1017.1" width="60.5" height="5.6" fill="#a83008"/>
<rect x="609.0" y="1022.4" width="60.5" height="7.4" fill="#f8a830"/>
<rect x="609.0" y="1029.5" width="60.5" height="4.7" fill="#f07820"/>
<rect x="609.0" y="1033.9" width="60.5" height="14.5" fill="#f06c28"/>
<rect x="609.0" y="1048.1" width="60.5" height="8.3" fill="#f8c038"/>
<rect x="609.0" y="1056.1" width="60.5" height="7.4" fill="#c02810"/>
<rect x="609.0" y="1063.2" width="60.5" height="3.9" fill="#f07820"/>
<rect x="609.0" y="1066.8" width="60.5" height="3.0" fill="#d03010"/>
<rect x="609.0" y="1069.4" width="60.5" height="4.7" fill="#e86818"/>
<rect x="609.0" y="1073.9" width="60.5" height="6.5" fill="#f8c848"/>
<rect x="609.0" y="1080.1" width="60.5" height="4.7" fill="#d84810"/>
<rect x="609.0" y="1084.5" width="60.5" height="13.6" fill="#f06020"/>
<rect x="609.0" y="1097.8" width="60.5" height="8.3" fill="#f08020"/>
<rect x="609.0" y="1105.8" width="60.5" height="4.7" fill="#f8d030"/>
<rect x="609.0" y="1110.3" width="60.5" height="12.7" fill="#f0dc38"/>
<rect x="609.0" y="1122.7" width="60.5" height="8.8" fill="#e85818"/>
<rect x="669.2" y="819.0" width="60.5" height="3.4" fill="#f6e878"/>
<rect x="669.2" y="822.1" width="60.5" height="7.4" fill="#b83810"/>
<rect x="669.2" y="829.2" width="60.5" height="4.2" fill="#f8a030"/>
<rect x="669.2" y="833.1" width="60.5" height="9.2" fill="#d83818"/>
<rect x="669.2" y="842.0" width="60.5" height="3.0" fill="#f89030"/>
<rect x="669.2" y="844.6" width="60.5" height="10.1" fill="#e86818"/>
<rect x="669.2" y="854.4" width="60.5" height="7.4" fill="#f8c828"/>
<rect x="669.2" y="861.5" width="60.5" height="4.2" fill="#f0a020"/>
<rect x="669.2" y="865.4" width="60.5" height="3.5" fill="#c85018"/>
<rect x="669.2" y="868.6" width="60.5" height="9.2" fill="#fcfcfc"/>
<rect x="669.2" y="877.5" width="60.5" height="14.5" fill="#e8f0fa"/>
<rect x="669.2" y="891.7" width="60.5" height="12.7" fill="#fcfcf4"/>
<rect x="669.2" y="904.1" width="60.5" height="5.6" fill="#dcc030"/>
<rect x="669.2" y="909.4" width="60.5" height="9.2" fill="#fcf8c0"/>
<rect x="669.2" y="918.3" width="60.5" height="9.2" fill="#fffef8"/>
<rect x="669.2" y="927.2" width="60.5" height="8.3" fill="#e05018"/>
<rect x="669.2" y="935.2" width="60.5" height="4.7" fill="#f8d040"/>
<rect x="669.2" y="939.6" width="60.5" height="7.4" fill="#f8f0a0"/>
<rect x="669.2" y="946.7" width="60.5" height="16.3" fill="#ecdc20"/>
<rect x="669.2" y="962.7" width="60.5" height="4.7" fill="#f09820"/>
<rect x="669.2" y="967.1" width="60.5" height="3.2" fill="#f04820"/>
<rect x="669.2" y="970.0" width="60.5" height="12.7" fill="#e83820"/>
<rect x="669.2" y="982.4" width="60.5" height="5.6" fill="#b81810"/>
<rect x="669.2" y="987.8" width="60.5" height="6.5" fill="#d82820"/>
<rect x="669.2" y="994.0" width="60.5" height="17.2" fill="#f07020"/>
<rect x="669.2" y="1010.8" width="60.5" height="9.2" fill="#f08828"/>
<rect x="669.2" y="1019.7" width="60.5" height="3.9" fill="#e04818"/>
<rect x="669.2" y="1023.3" width="60.5" height="7.4" fill="#f05828"/>
<rect x="669.2" y="1030.4" width="60.5" height="19.8" fill="#ec5020"/>
<rect x="669.2" y="1049.9" width="60.5" height="9.2" fill="#b81c18"/>
<rect x="669.2" y="1058.8" width="60.5" height="10.1" fill="#e84020"/>
<rect x="669.2" y="1068.5" width="60.5" height="5.6" fill="#a01810"/>
<rect x="669.2" y="1073.9" width="60.5" height="4.7" fill="#f8e868"/>
<rect x="669.2" y="1078.3" width="60.5" height="7.4" fill="#f4e050"/>
<rect x="669.2" y="1085.4" width="60.5" height="5.6" fill="#f0b828"/>
<rect x="669.2" y="1090.7" width="60.5" height="11.0" fill="#f09020"/>
<rect x="669.2" y="1101.4" width="60.5" height="5.6" fill="#f8c030"/>
<rect x="669.2" y="1106.7" width="60.5" height="18.1" fill="#f4e048"/>
<rect x="669.2" y="1124.5" width="60.5" height="7.0" fill="#fcf8b8"/>
<rect x="729.4" y="819.0" width="60.5" height="8.2" fill="#f4e060"/>
<rect x="729.4" y="826.9" width="60.5" height="7.4" fill="#f0d840"/>
<rect x="729.4" y="834.0" width="60.5" height="3.9" fill="#f8f4c0"/>
<rect x="729.4" y="837.5" width="60.5" height="6.5" fill="#dce8e8"/>
<rect x="729.4" y="843.7" width="60.5" height="9.2" fill="#e85818"/>
<rect x="729.4" y="852.6" width="60.5" height="4.2" fill="#f8a830"/>
<rect x="729.4" y="856.5" width="60.5" height="6.2" fill="#f8c828"/>
<rect x="729.4" y="862.4" width="60.5" height="4.7" fill="#e0a020"/>
<rect x="729.4" y="866.8" width="60.5" height="3.9" fill="#fbf4c0"/>
<rect x="729.4" y="870.4" width="60.5" height="23.4" fill="#f0f4fc"/>
<rect x="729.4" y="893.5" width="60.5" height="5.6" fill="#e8dc70"/>
<rect x="729.4" y="898.8" width="60.5" height="14.5" fill="#f8f0a8"/>
<rect x="729.4" y="913.0" width="60.5" height="7.4" fill="#fcf8d0"/>
<rect x="729.4" y="920.1" width="60.5" height="7.4" fill="#ffffff"/>
<rect x="729.4" y="927.2" width="60.5" height="8.3" fill="#e06818"/>
<rect x="729.4" y="935.2" width="60.5" height="4.7" fill="#f8c030"/>
<rect x="729.4" y="939.6" width="60.5" height="11.0" fill="#fcf4a0"/>
<rect x="729.4" y="950.3" width="60.5" height="6.5" fill="#f4d030"/>
<rect x="729.4" y="956.5" width="60.5" height="6.5" fill="#e85818"/>
<rect x="729.4" y="962.7" width="60.5" height="7.4" fill="#c82010"/>
<rect x="729.4" y="969.8" width="60.5" height="0.5" fill="#e83020"/>
<rect x="729.4" y="970.0" width="60.5" height="12.7" fill="#e83820"/>
<rect x="729.4" y="982.4" width="60.5" height="5.6" fill="#b83010"/>
<rect x="729.4" y="987.8" width="60.5" height="5.6" fill="#f8a040"/>
<rect x="729.4" y="993.1" width="60.5" height="18.9" fill="#f07020"/>
<rect x="729.4" y="1011.7" width="60.5" height="9.2" fill="#f49828"/>
<rect x="729.4" y="1020.6" width="60.5" height="3.9" fill="#e04818"/>
<rect x="729.4" y="1024.2" width="60.5" height="6.5" fill="#f05828"/>
<rect x="729.4" y="1030.4" width="60.5" height="19.8" fill="#ec5420"/>
<rect x="729.4" y="1049.9" width="60.5" height="11.0" fill="#b02020"/>
<rect x="729.4" y="1060.6" width="60.5" height="12.7" fill="#a81818"/>
<rect x="729.4" y="1073.0" width="60.5" height="5.6" fill="#f8e060"/>
<rect x="729.4" y="1078.3" width="60.5" height="5.6" fill="#e8c028"/>
<rect x="729.4" y="1083.6" width="60.5" height="5.6" fill="#f8c030"/>
<rect x="729.4" y="1089.0" width="60.5" height="8.3" fill="#f0a028"/>
<rect x="729.4" y="1097.0" width="60.5" height="4.7" fill="#f8c830"/>
<rect x="729.4" y="1101.4" width="60.5" height="5.6" fill="#f0b828"/>
<rect x="729.4" y="1106.7" width="60.5" height="18.1" fill="#f4e048"/>
<rect x="729.4" y="1124.5" width="60.5" height="7.0" fill="#fcf8c0"/>
<line x1="127.6" x2="127.6" y1="819.0" y2="1131.2" stroke="#fff" stroke-opacity="0.28" stroke-width="1.2"/>
<line x1="187.8" x2="187.8" y1="819.0" y2="1131.2" stroke="#fff" stroke-opacity="0.28" stroke-width="1.2"/>
<line x1="247.9" x2="247.9" y1="819.0" y2="1131.2" stroke="#fff" stroke-opacity="0.28" stroke-width="1.2"/>
<line x1="308.1" x2="308.1" y1="819.0" y2="1131.2" stroke="#fff" stroke-opacity="0.28" stroke-width="1.2"/>
<line x1="368.3" x2="368.3" y1="819.0" y2="1131.2" stroke="#fff" stroke-opacity="0.28" stroke-width="1.2"/>
<line x1="428.5" x2="428.5" y1="819.0" y2="1131.2" stroke="#fff" stroke-opacity="0.28" stroke-width="1.2"/>
<line x1="488.7" x2="488.7" y1="819.0" y2="1131.2" stroke="#fff" stroke-opacity="0.28" stroke-width="1.2"/>
<line x1="548.8" x2="548.8" y1="819.0" y2="1131.2" stroke="#fff" stroke-opacity="0.28" stroke-width="1.2"/>
<line x1="609.0" x2="609.0" y1="819.0" y2="1131.2" stroke="#fff" stroke-opacity="0.28" stroke-width="1.2"/>
<line x1="669.2" x2="669.2" y1="819.0" y2="1131.2" stroke="#fff" stroke-opacity="0.28" stroke-width="1.2"/>
<line x1="729.4" x2="729.4" y1="819.0" y2="1131.2" stroke="#fff" stroke-opacity="0.28" stroke-width="1.2"/>
</g>
<rect x="884.5" y="914.5" width="50.5" height="220.5" fill="url(#cb)" stroke="#6f7680" stroke-opacity="0.8" stroke-width="1.6"/>
<text class="cbt" transform="translate(940.5,960.7) scale(1.27,1)">2</text>
<text class="cbt" transform="translate(940.5,1002.8) scale(1.27,1)">1</text>
<text class="cbt" transform="translate(940.5,1044.8) scale(1.27,1)">0</text>
<text class="cbt" transform="translate(940.5,1087.2) scale(1.27,1)">−1</text>
<text class="cbt" transform="translate(940.5,1129.5) scale(1.27,1)">−2</text>
<text class="cl" transform="translate(95.2,1157) scale(1.29,1) rotate(29.5)">Product A-3</text>
<text class="cl" transform="translate(153.6,1157) scale(1.29,1) rotate(29.5)">Product A-1</text>
<text class="cl" transform="translate(211.9,1157) scale(1.29,1) rotate(29.5)">Product A-2</text>
<text class="cl" transform="translate(270.2,1157) scale(1.29,1) rotate(29.5)">Product C-2</text>
<text class="cl" transform="translate(328.6,1157) scale(1.29,1) rotate(29.5)">Product C-1</text>
<text class="cl" transform="translate(386.9,1157) scale(1.29,1) rotate(29.5)">Product C-3</text>
<text class="cl" transform="translate(445.3,1157) scale(1.29,1) rotate(29.5)">Product B-3</text>
<text class="cl" transform="translate(503.6,1157) scale(1.29,1) rotate(29.5)">Product B-1</text>
<text class="cl" transform="translate(562.0,1157) scale(1.29,1) rotate(29.5)">Product B-2</text>
<text class="cl" transform="translate(620.4,1157) scale(1.29,1) rotate(29.5)">Product D-1</text>
<text class="cl" transform="translate(678.7,1157) scale(1.29,1) rotate(29.5)">Product D-2</text>
<text class="cl" transform="translate(737.1,1157) scale(1.29,1) rotate(29.5)">Product D-3</text>
</svg>
<div class="t j" style="top:1284px;text-indent:86px">从分析结果可以看出，与其它番茄品种相比，A</div>
<div class="t j" style="top:1370px">品种含有大量的氨基酸，C品种则含有大量的糖。同</div>
<div class="t j" style="top:1456.5px">时利用糖的专用分析方法对不同番茄品种的糖代谢物</div>
<div class="t" style="top:1542.5px">进行半定量分析，从而确证每个品种间存在差异。</div>
</body></html>
